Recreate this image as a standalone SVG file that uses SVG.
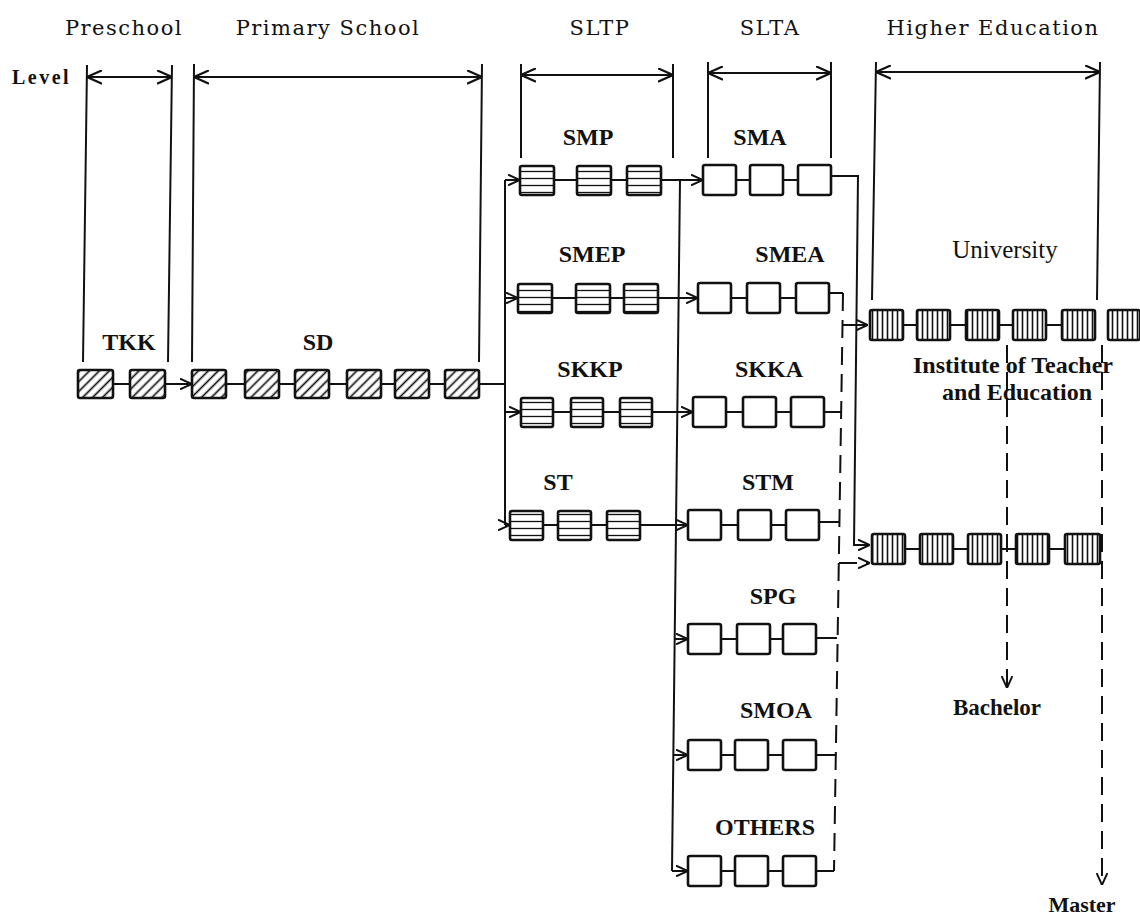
<svg xmlns="http://www.w3.org/2000/svg" width="1140" height="920" viewBox="0 0 1140 920">
<style>
.hdr{font-family:"DejaVu Serif","Liberation Serif",serif;font-size:21px;letter-spacing:1.5px;fill:#111;text-anchor:middle}
.lbl{font-family:"Liberation Serif","Times New Roman",serif;font-size:24px;font-weight:bold;fill:#111;text-anchor:middle}
.reg{font-family:"Liberation Serif","Times New Roman",serif;font-size:25px;fill:#111;text-anchor:middle}
.ln{fill:none;stroke:#111;stroke-width:2}
.dash{fill:none;stroke:#111;stroke-width:2;stroke-dasharray:18 9}
.bx{stroke:#111;stroke-width:2.6}
.e{fill:#fff}
.d{fill:url(#diag)}
.h{fill:url(#hl)}
.v{fill:url(#vl)}
</style>
<defs>
<pattern id="diag" width="7" height="7" patternUnits="userSpaceOnUse" patternTransform="rotate(45)"><rect width="7" height="7" fill="#fff"/><line x1="3.5" y1="0" x2="3.5" y2="7" stroke="#111" stroke-width="1.7"/></pattern>
<pattern id="hl" width="8" height="7" patternUnits="userSpaceOnUse"><rect width="8" height="7" fill="#fff"/><line x1="0" y1="3.5" x2="8" y2="3.5" stroke="#111" stroke-width="1.3"/></pattern>
<pattern id="vl" width="5" height="10" patternUnits="userSpaceOnUse"><rect width="5" height="10" fill="#fff"/><line x1="2.5" y1="0" x2="2.5" y2="10" stroke="#111" stroke-width="1.6"/></pattern>
<marker id="ah" viewBox="0 0 10 10" refX="10" refY="5" markerWidth="12" markerHeight="12" markerUnits="userSpaceOnUse" orient="auto-start-reverse"><path d="M0,0.5 L10,5 L0,9.5" fill="none" stroke="#111" stroke-width="1.6" stroke-dasharray="none"/></marker>
<marker id="ahb" viewBox="0 0 10 10" refX="10" refY="5" markerWidth="15" markerHeight="15" markerUnits="userSpaceOnUse" orient="auto-start-reverse"><path d="M0,0.5 L10,5 L0,9.5" fill="none" stroke="#111" stroke-width="1.4"/></marker>
</defs>

<g id="headers">
<text class="hdr" x="124" y="35">Preschool</text>
<text class="hdr" x="328" y="35">Primary School</text>
<text class="hdr" x="600" y="35">SLTP</text>
<text class="hdr" x="770" y="35">SLTA</text>
<text class="hdr" x="993" y="35">Higher Education</text>
<text x="12" y="84" style="font-family:'Liberation Serif',serif;font-size:20px;font-weight:bold;letter-spacing:2.5px;fill:#111">Level</text>
</g>

<g id="brackets">
<path class="ln" d="M87,77 H172" marker-start="url(#ahb)" marker-end="url(#ahb)"/>
<path class="ln" d="M87,65 L83,362 M172,65 L168,362"/>
<path class="ln" d="M194,77 H482" marker-start="url(#ahb)" marker-end="url(#ahb)"/>
<path class="ln" d="M194,64 L192,362 M482,64 L479,362"/>
<path class="ln" d="M521,75 H673" marker-start="url(#ahb)" marker-end="url(#ahb)"/>
<path class="ln" d="M521,64 V158 M673,64 V158"/>
<path class="ln" d="M708,73 H831" marker-start="url(#ahb)" marker-end="url(#ahb)"/>
<path class="ln" d="M708,62 V158 M831,62 V158"/>
<path class="ln" d="M876,72 H1100" marker-start="url(#ahb)" marker-end="url(#ahb)"/>
<path class="ln" d="M876,62 L872,300 M1100,62 L1097,300"/>
</g>

<g id="connectors">
<path class="ln" d="M113,384 H130"/>
<path class="ln" d="M165,384 H192" marker-end="url(#ah)"/>
<path class="ln" d="M226,384 H245 M279,384 H295 M329,384 H347 M381,384 H395 M429,384 H445 M479,384 H505"/>
<path class="ln" d="M505,180 V525"/>
<path class="ln" d="M505,180 H520" marker-end="url(#ah)"/>
<path class="ln" d="M505,298 H518" marker-end="url(#ah)"/>
<path class="ln" d="M505,412 H521" marker-end="url(#ah)"/>
<path class="ln" d="M505,525 H510" marker-end="url(#ah)"/>
<path class="ln" d="M554,180 H577 M611,180 H627 M552,298 H576 M610,298 H624 M553,412 H571 M603,412 H620 M543,525 H558 M591,525 H607"/>
<path class="ln" d="M661,180 H703" marker-end="url(#ah)"/>
<path class="ln" d="M658,298 H698" marker-end="url(#ah)"/>
<path class="ln" d="M652,412 H693" marker-end="url(#ah)"/>
<path class="ln" d="M640,525 H688" marker-end="url(#ah)"/>
<path class="ln" d="M680,180 L672,871"/>
<path class="ln" d="M675,639 H688" marker-end="url(#ah)"/>
<path class="ln" d="M673,755 H688" marker-end="url(#ah)"/>
<path class="ln" d="M672,871 H688" marker-end="url(#ah)"/>
<path class="ln" d="M736,180 H750 M783,180 H798 M731,298 H747 M780,298 H796 M726,412 H743 M776,412 H791 M721,525 H738 M771,525 H786 M721,639 H737 M770,639 H783 M721,755 H735 M768,755 H783 M721,871 H735 M768,871 H783"/>
<path class="ln" d="M831,176 H858 L854,545 H870" marker-end="url(#ah)"/>
<path class="ln" d="M857,325 H868" marker-end="url(#ah)"/>
<path class="ln" d="M829,293 H843 M824,412 H841 M819,522 H839 M816,638 H837 M816,755 H835 M816,871 H834"/>
<path class="dash" d="M843,293 L834,871"/>
<path class="dash" d="M843,325 H857"/>
<path class="dash" d="M839,563 H870" marker-end="url(#ah)"/>
<path class="ln" d="M903,325 H917 M950,325 H966 M999,325 H1013 M1046,325 H1062"/>
<path class="ln" d="M905,549 H920 M953,549 H968 M1001,549 H1016 M1049,549 H1065"/>
<path class="dash" d="M1007,345 V688" marker-end="url(#ah)"/>
<path class="dash" d="M1102,345 V885" marker-end="url(#ah)"/>
</g>

<g id="row-TKK">
<text class="lbl" x="129" y="350">TKK</text>
<rect class="bx d" x="78" y="370" width="35" height="28" rx="2"/>
<rect class="bx d" x="130" y="370" width="35" height="28" rx="2"/>
</g>
<g id="row-SD">
<text class="lbl" x="318" y="350">SD</text>
<rect class="bx d" x="192" y="370" width="34" height="28" rx="2"/>
<rect class="bx d" x="245" y="370" width="34" height="28" rx="2"/>
<rect class="bx d" x="295" y="370" width="34" height="28" rx="2"/>
<rect class="bx d" x="347" y="370" width="34" height="28" rx="2"/>
<rect class="bx d" x="395" y="370" width="34" height="28" rx="2"/>
<rect class="bx d" x="445" y="370" width="34" height="28" rx="2"/>
</g>

<g id="row-SMP">
<text class="lbl" x="588" y="145">SMP</text>
<rect class="bx h" x="520" y="166" width="34" height="29" rx="2"/>
<rect class="bx h" x="577" y="166" width="34" height="29" rx="2"/>
<rect class="bx h" x="627" y="166" width="34" height="29" rx="2"/>
</g>
<g id="row-SMEP">
<text class="lbl" x="592" y="262">SMEP</text>
<rect class="bx h" x="518" y="284" width="34" height="29" rx="2"/>
<rect class="bx h" x="576" y="284" width="34" height="29" rx="2"/>
<rect class="bx h" x="624" y="284" width="34" height="29" rx="2"/>
</g>
<g id="row-SKKP">
<text class="lbl" x="590" y="377">SKKP</text>
<rect class="bx h" x="521" y="398" width="32" height="29" rx="2"/>
<rect class="bx h" x="571" y="398" width="32" height="29" rx="2"/>
<rect class="bx h" x="620" y="398" width="32" height="29" rx="2"/>
</g>
<g id="row-ST">
<text class="lbl" x="558" y="490">ST</text>
<rect class="bx h" x="510" y="511" width="33" height="29" rx="2"/>
<rect class="bx h" x="558" y="511" width="33" height="29" rx="2"/>
<rect class="bx h" x="607" y="511" width="33" height="29" rx="2"/>
</g>

<g id="row-SMA">
<text class="lbl" x="760" y="145">SMA</text>
<rect class="bx e" x="703" y="165" width="33" height="30" rx="2"/>
<rect class="bx e" x="750" y="165" width="33" height="30" rx="2"/>
<rect class="bx e" x="798" y="165" width="33" height="30" rx="2"/>
</g>
<g id="row-SMEA">
<text class="lbl" x="790" y="262">SMEA</text>
<rect class="bx e" x="698" y="283" width="33" height="30" rx="2"/>
<rect class="bx e" x="747" y="283" width="33" height="30" rx="2"/>
<rect class="bx e" x="796" y="283" width="33" height="30" rx="2"/>
</g>
<g id="row-SKKA">
<text class="lbl" x="769" y="377">SKKA</text>
<rect class="bx e" x="693" y="397" width="33" height="30" rx="2"/>
<rect class="bx e" x="743" y="397" width="33" height="30" rx="2"/>
<rect class="bx e" x="791" y="397" width="33" height="30" rx="2"/>
</g>
<g id="row-STM">
<text class="lbl" x="768" y="490">STM</text>
<rect class="bx e" x="688" y="510" width="33" height="30" rx="2"/>
<rect class="bx e" x="738" y="510" width="33" height="30" rx="2"/>
<rect class="bx e" x="786" y="510" width="33" height="30" rx="2"/>
</g>
<g id="row-SPG">
<text class="lbl" x="773" y="604">SPG</text>
<rect class="bx e" x="688" y="624" width="33" height="30" rx="2"/>
<rect class="bx e" x="737" y="624" width="33" height="30" rx="2"/>
<rect class="bx e" x="783" y="624" width="33" height="30" rx="2"/>
</g>
<g id="row-SMOA">
<text class="lbl" x="776" y="718">SMOA</text>
<rect class="bx e" x="688" y="740" width="33" height="30" rx="2"/>
<rect class="bx e" x="735" y="740" width="33" height="30" rx="2"/>
<rect class="bx e" x="783" y="740" width="33" height="30" rx="2"/>
</g>
<g id="row-OTHERS">
<text class="lbl" x="765" y="835">OTHERS</text>
<rect class="bx e" x="688" y="856" width="33" height="30" rx="2"/>
<rect class="bx e" x="735" y="856" width="33" height="30" rx="2"/>
<rect class="bx e" x="783" y="856" width="33" height="30" rx="2"/>
</g>

<g id="row-University">
<text class="reg" x="1005" y="258">University</text>
<rect class="bx v" x="870" y="310" width="33" height="30" rx="2"/>
<rect class="bx v" x="917" y="310" width="33" height="30" rx="2"/>
<rect class="bx v" x="966" y="310" width="33" height="30" rx="2"/>
<rect class="bx v" x="1013" y="310" width="33" height="30" rx="2"/>
<rect class="bx v" x="1062" y="310" width="33" height="30" rx="2"/>
<rect class="bx v" x="1108" y="310" width="32" height="30" rx="2"/>
</g>
<g id="row-Institute">
<text class="lbl" x="1013" y="373">Institute of Teacher</text>
<text class="lbl" x="1017" y="400">and Education</text>
<rect class="bx v" x="872" y="534" width="33" height="30" rx="2"/>
<rect class="bx v" x="920" y="534" width="33" height="30" rx="2"/>
<rect class="bx v" x="968" y="534" width="33" height="30" rx="2"/>
<rect class="bx v" x="1016" y="534" width="33" height="30" rx="2"/>
<rect class="bx v" x="1065" y="534" width="35" height="30" rx="2"/>
</g>

<g id="Bachelor"><text class="lbl" style="font-size:23px" x="997" y="715">Bachelor</text></g>
<g id="Master"><text class="lbl" style="font-size:22px" x="1082" y="912">Master</text></g>
</svg>
